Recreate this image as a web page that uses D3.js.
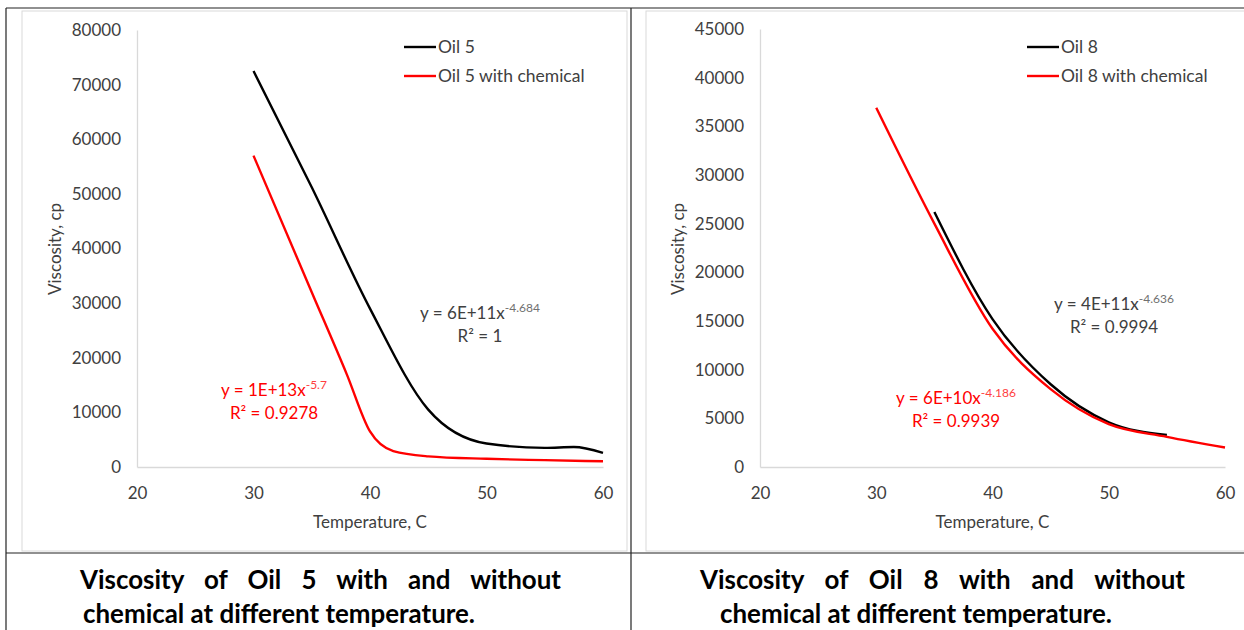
<!DOCTYPE html>
<html>
<head>
<meta charset="utf-8">
<script src="https://cdn.jsdelivr.net/npm/d3@7"></script>
<style>
  body { margin: 0; background: #fff; }
  svg { display: block; font-family: Lato, 'Open Sans', sans-serif; }
</style>
</head>
<body>
<div id="box"></div>
<script>
// data
const xTicks = [20, 30, 40, 50, 60]
const oil5Ticks = [0, 10000, 20000, 30000, 40000, 50000, 60000, 70000, 80000]
const oil8Ticks = [0, 5000, 10000, 15000, 20000, 25000, 30000, 35000, 40000, 45000]

const oil5Temp = [30, 35, 40, 45, 50, 55, 57.5, 60]
const oil5Visc = [72500, 51200, 29000, 10500, 4300, 3500, 3650, 2600]
const oil5ChemTemp = [30, 35, 38, 40, 42, 45, 50, 55, 60]
const oil5ChemVisc = [57000, 32000, 17000, 6500, 2900, 1950, 1500, 1250, 1050]

const oil8Temp = [35, 40, 45, 50, 55]
const oil8Visc = [26200, 15200, 8500, 4600, 3300]
const oil8ChemTemp = [30, 35, 40, 45, 50, 55, 60]
const oil8ChemVisc = [36900, 25000, 14200, 8000, 4400, 3100, 2000]

const legend5 = ['Oil 5', 'Oil 5 with chemical']
const legend8 = ['Oil 8', 'Oil 8 with chemical']
const fit5 = [['6E+11', '-4.684', '1'], ['1E+13', '-5.7', '0.9278']]
const fit8 = [['4E+11', '-4.636', '0.9994'], ['6E+10', '-4.186', '0.9939']]
const captionLines = ['with and without', 'chemical at different temperature.']

const width = 1244
const height = 630
const textColor = '#404040'

const svg = d3.select('#box').append('svg')
            .attr('width', width)
            .attr('height', height)

function drawChart(cfg) {
  const g = svg.append('g')

  g.append('rect')
   .attr('x', cfg.frame[0]).attr('y', 11)
   .attr('width', cfg.frame[1]).attr('height', 540)
   .attr('fill', '#fff')
   .attr('stroke', '#d9d9d9')

  const xScale = d3.scaleLinear().domain([20, 60]).range([cfg.left, cfg.right])
  const yScale = d3.scaleLinear().domain([0, cfg.yMax]).range([467, cfg.top])

  const xAxis = d3.axisBottom(xScale).tickValues(xTicks).tickSize(0).tickPadding(20)
  const yAxis = d3.axisLeft(yScale).tickValues(cfg.yTicks).tickSize(0).tickPadding(16)
                  .tickFormat(d3.format('d'))

  g.append('g')
   .attr('transform', `translate(0, ${yScale(0)})`)
   .call(xAxis)
  g.append('g')
   .attr('transform', `translate(${cfg.left}, 0)`)
   .call(yAxis)

  g.selectAll('.domain').attr('stroke', '#d9d9d9').attr('stroke-width', 1.3)
  g.selectAll('.tick text')
   .attr('fill', textColor)
   .style('font-family', 'Lato, sans-serif')
   .style('font-size', '17px')

  // axis titles
  g.append('text')
   .text('Temperature, C')
   .attr('x', (cfg.left + cfg.right) / 2)
   .attr('y', 528)
   .attr('text-anchor', 'middle')
   .attr('fill', textColor)
   .style('font-size', '17px')

  g.append('text')
   .text('Viscosity, cp')
   .attr('transform', `translate(${cfg.left - 76}, 249) rotate(-90)`)
   .attr('text-anchor', 'middle')
   .attr('fill', textColor)
   .style('font-size', '17px')

  const line = d3.line()
                 .x(d => xScale(d[0]))
                 .y(d => yScale(d[1]))
                 .curve(d3.curveMonotoneX)

  cfg.series.forEach(s => {
    g.append('path')
     .datum(d3.zip(s.temp, s.visc))
     .attr('d', line)
     .attr('fill', 'none')
     .attr('stroke', s.color)
     .attr('stroke-width', 2.4)
  })

  // legend
  cfg.series.forEach((s, i) => {
    const ly = 47 + i * 29
    g.append('line')
     .attr('x1', cfg.legendX).attr('x2', cfg.legendX + 32)
     .attr('y1', ly).attr('y2', ly)
     .attr('stroke', s.color)
     .attr('stroke-width', 2.4)
    g.append('text')
     .text(cfg.legend[i])
     .attr('x', cfg.legendX + 34)
     .attr('y', ly + 6)
     .attr('fill', textColor)
     .style('font-size', '17.5px')
  })

  // trendline equations
  cfg.fits.forEach((f, i) => {
    const color = i === 0 ? textColor : '#ff0000'
    const pos = cfg.fitPos[i]
    const eq = g.append('text')
                .attr('x', pos[0]).attr('y', pos[1])
                .attr('text-anchor', 'middle')
                .attr('fill', color)
                .style('font-size', '17px')
    eq.append('tspan').text(`y = ${f[0]}x`)
    eq.append('tspan').text(f[1]).attr('dy', -7).style('font-size', '12px')
      .attr('fill', i === 0 ? '#707070' : '#ff4040')

    g.append('text')
     .text(`R² = ${f[2]}`)
     .attr('x', pos[0]).attr('y', pos[1] + 23)
     .attr('text-anchor', 'middle')
     .attr('fill', color)
     .style('font-size', '17px')
  })

  // caption below the chart, first line justified
  const squeeze = 0.96
  const capFont = 'bold 27px Lato, sans-serif'
  const l1 = g.append('text')
              .text(`Viscosity of Oil ${cfg.oil} ${captionLines[0]}`)
              .attr('transform', `translate(${cfg.capX}, 589) scale(${squeeze}, 1)`)
              .attr('fill', '#000')
              .style('font', capFont)
  const natural = l1.node().getComputedTextLength()
  l1.style('word-spacing', `${(cfg.capW / squeeze - natural) / 6}px`)

  g.append('text')
   .text(captionLines[1])
   .attr('transform', `translate(${cfg.capX + cfg.cap2dx}, 623) scale(${squeeze}, 1)`)
   .attr('fill', '#000')
   .style('font', capFont)
}

drawChart({
  oil: 5, frame: [22, 605], left: 137, right: 603, top: 30, yMax: 80000,
  yTicks: oil5Ticks, legend: legend5, legendX: 404, fits: fit5,
  fitPos: [[480, 319], [274, 396]], capX: 80, capW: 481, cap2dx: 3,
  series: [
    { temp: oil5Temp, visc: oil5Visc, color: '#000' },
    { temp: oil5ChemTemp, visc: oil5ChemVisc, color: '#ff0000' }
  ]
})

drawChart({
  oil: 8, frame: [646, 610], left: 760, right: 1225, top: 29, yMax: 45000,
  yTicks: oil8Ticks, legend: legend8, legendX: 1027, fits: fit8,
  fitPos: [[1114, 310], [956, 404]], capX: 700, capW: 485, cap2dx: 20,
  series: [
    { temp: oil8Temp, visc: oil8Visc, color: '#000' },
    { temp: oil8ChemTemp, visc: oil8ChemVisc, color: '#ff0000' }
  ]
})

// table rules around the two figures
const rules = [[6, 8, 1244, 8], [6, 8, 6, 630], [631, 8, 631, 630], [6, 553, 1244, 553]]
svg.selectAll('.rule')
   .data(rules)
   .enter()
   .append('line')
   .attr('x1', d => d[0]).attr('y1', d => d[1])
   .attr('x2', d => d[2]).attr('y2', d => d[3])
   .attr('stroke', '#222')
   .attr('stroke-width', 1.2)
</script>
</body>
</html>
